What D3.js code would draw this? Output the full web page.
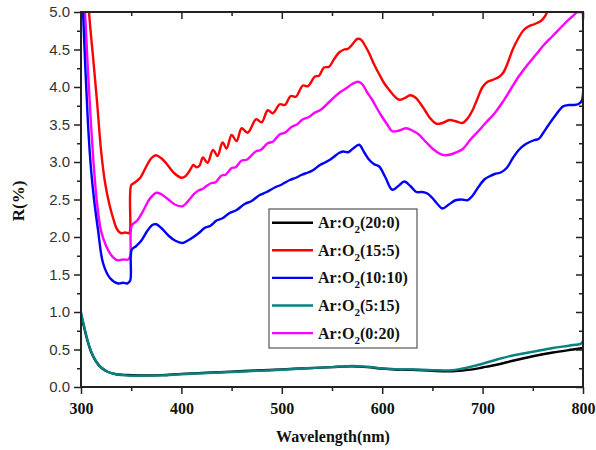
<!DOCTYPE html>
<html><head><meta charset="utf-8">
<script src="https://cdn.jsdelivr.net/npm/d3@7"></script>
<style>
html,body{margin:0;padding:0;background:#fff;}
svg{display:block;}
</style></head>
<body>
<svg id="chart" width="596" height="450"></svg>
<script>
// ---- data (wavelength nm, reflectance %) ----
const xTicks = [300, 400, 500, 600, 700, 800];
const xMinorTicks = [350, 450, 550, 650, 750];
const yTicks = [0, 0.5, 1, 1.5, 2, 2.5, 3, 3.5, 4, 4.5, 5];
const yMinorTicks = [0.25, 0.75, 1.25, 1.75, 2.25, 2.75, 3.25, 3.75, 4.25, 4.75];

const seriesNames = ["20:0", "15:5", "10:10", "5:15", "0:20"];
const seriesColors = ["#000000", "#ff0000", "#0000ff", "#0a8080", "#ff00ff"];

const ar20_0 = [[300,0.95],[303,0.8],[306,0.64],[310,0.47],[315,0.34],[320,0.26],[327,0.2],[335,0.17],[345,0.16],[360,0.155],[380,0.158],[400,0.175],[425,0.19],[450,0.205],[475,0.22],[500,0.235],[525,0.25],[550,0.265],[570,0.275],[585,0.265],[600,0.245],[615,0.23],[630,0.23],[650,0.215],[670,0.21],[690,0.235],[700,0.26],[715,0.3],[730,0.35],[750,0.41],[770,0.46],[790,0.5],[800,0.52]];

const ar15_5 = [[300,7.5],[304,6.1],[308,5.0],[312,4.4],[316,3.8],[320,3.15],[324,2.72],[328,2.45],[332,2.25],[336,2.1],[340,2.05],[344,2.06],[348,2.05],[349,2.1],[350,2.69],[353,2.72],[359,2.79],[365,2.94],[370,3.05],[374.5,3.09],[380,3.05],[385,2.98],[393,2.85],[400,2.79],[404,2.81],[408,2.88],[412,2.96],[415,2.93],[418,2.95],[421.5,3.06],[426,2.99],[431.5,3.16],[436,3.08],[441,3.26],[445,3.18],[450,3.36],[455,3.28],[460,3.45],[466,3.39],[474.5,3.57],[480,3.53],[486,3.69],[491,3.65],[498,3.77],[503,3.76],[509,3.88],[514,3.87],[521,4.02],[526,4.01],[533,4.14],[537,4.15],[542,4.26],[547,4.27],[552,4.37],[557,4.46],[562,4.5],[566,4.51],[571,4.58],[575,4.64],[579,4.63],[583,4.55],[587,4.45],[592,4.3],[597,4.17],[602,4.05],[607,3.96],[612,3.88],[617,3.83],[622,3.85],[628,3.89],[633,3.86],[638,3.78],[643,3.68],[648,3.58],[654,3.51],[660,3.52],[667,3.56],[674,3.54],[680,3.52],[685,3.58],[690,3.69],[695,3.85],[700,4.0],[705,4.07],[711,4.1],[717,4.14],[721,4.2],[725,4.32],[730,4.5],[736,4.66],[741,4.76],[746,4.81],[752,4.84],[758,4.88],[762,4.94],[766,5.05],[770,5.2]];

const ar10_10 = [[300,6.0],[302,5.0],[304.5,4.2],[307,3.5],[310,2.9],[313,2.5],[317,2.09],[322,1.65],[329,1.45],[337,1.38],[342,1.39],[346,1.38],[349,1.42],[350.5,1.83],[355,1.88],[360,1.95],[366,2.08],[371,2.16],[375,2.17],[380,2.12],[387,2.02],[394,1.95],[401,1.92],[406,1.95],[412,2.0],[418,2.06],[423,2.12],[429,2.15],[435,2.22],[441,2.25],[448,2.32],[455,2.36],[463,2.44],[470,2.48],[478,2.56],[485,2.6],[493,2.66],[500,2.7],[508,2.76],[514,2.79],[520,2.83],[526,2.86],[531,2.89],[538,2.96],[544,3.0],[548,3.03],[552,3.07],[557,3.12],[561,3.14],[566,3.13],[571,3.18],[577,3.23],[582,3.13],[587,3.03],[592,2.97],[597,2.94],[603,2.8],[610,2.63],[616,2.68],[622,2.74],[628,2.68],[634,2.6],[640,2.6],[645,2.58],[650,2.52],[655,2.44],[660,2.38],[666,2.43],[673,2.49],[679,2.5],[685,2.49],[690,2.55],[696,2.67],[702,2.77],[707,2.81],[712,2.84],[718,2.86],[724,2.92],[730,3.05],[736,3.16],[743,3.24],[751,3.29],[756,3.31],[760,3.38],[766,3.5],[773,3.63],[780,3.74],[786,3.76],[791,3.76],[795,3.77],[798,3.8],[799.5,3.85],[800,5.0]];

const ar5_15 = [[300,1.0],[303,0.82],[306,0.65],[310,0.48],[315,0.34],[320,0.26],[327,0.2],[335,0.17],[345,0.155],[360,0.15],[380,0.155],[400,0.17],[425,0.185],[450,0.2],[475,0.215],[500,0.23],[525,0.25],[550,0.265],[570,0.28],[585,0.27],[600,0.25],[615,0.235],[630,0.235],[650,0.225],[670,0.225],[685,0.26],[700,0.31],[715,0.37],[730,0.42],[750,0.47],[770,0.52],[790,0.56],[799,0.59],[800,1.52]];

const ar0_20 = [[300,6.0],[304,5.0],[307,4.2],[310,3.5],[313,2.9],[316,2.45],[320,2.08],[325,1.88],[330,1.76],[336,1.69],[342,1.7],[347,1.7],[349,1.74],[350.5,2.15],[356,2.22],[362,2.35],[368,2.5],[375,2.59],[380,2.57],[387,2.5],[394,2.43],[401,2.41],[408,2.5],[413,2.58],[417,2.62],[421,2.64],[425,2.68],[430,2.72],[434,2.73],[440,2.82],[444,2.83],[450,2.92],[454,2.93],[460,3.02],[465,3.03],[474,3.14],[479,3.16],[486,3.25],[491,3.27],[498,3.37],[503,3.39],[510,3.47],[515,3.5],[521,3.57],[527,3.6],[533,3.66],[538,3.69],[548,3.81],[557,3.92],[565,3.99],[570,4.04],[576,4.07],[580,4.04],[585,3.93],[590,3.83],[595,3.71],[600,3.6],[605,3.5],[610,3.41],[617,3.42],[624,3.45],[630,3.42],[637,3.36],[644,3.26],[650,3.18],[656,3.12],[662,3.09],[668,3.1],[674,3.13],[680,3.17],[688,3.3],[695,3.4],[703,3.52],[712,3.65],[720,3.8],[728,3.97],[736,4.14],[745,4.3],[753,4.43],[761,4.56],[769,4.67],[777,4.78],[785,4.89],[793,4.99],[797,5.1]];

const seriesData = [ar20_0, ar15_5, ar10_10, ar5_15, ar0_20];
const drawOrder = [0, 3, 1, 4, 2];

// ---- layout ----
const svg = d3.select("#chart");
const x = d3.scaleLinear().domain([300, 800]).range([81, 583]);
const y = d3.scaleLinear().domain([0, 5]).range([387, 12]);
const axisColor = "#222";

svg.append("defs").append("clipPath").attr("id", "clip")
  .append("rect").attr("x", 81).attr("y", 12).attr("width", 502).attr("height", 375);

// curves
const line = d3.line().x(d => x(d[0])).y(d => y(d[1])).curve(d3.curveCatmullRom.alpha(0.5));
const plot = svg.append("g").attr("clip-path", "url(#clip)");
drawOrder.forEach(i => {
  plot.append("path").datum(seriesData[i])
    .attr("d", line).attr("fill", "none")
    .attr("stroke", seriesColors[i]).attr("stroke-width", 2.4)
    .attr("stroke-linejoin", "round");
});

// axes
function styleAxis(g) {
  g.select(".domain").remove();
  g.selectAll(".tick line").attr("stroke", axisColor).attr("stroke-width", 1.5);
}
const gL = svg.append("g").attr("transform", "translate(81,0)")
  .call(d3.axisLeft(y).tickValues(yTicks).tickFormat(d3.format(".1f")).tickSize(7).tickPadding(4));
styleAxis(gL);
gL.selectAll(".tick text").attr("font-family", "'Liberation Sans', Arial, sans-serif")
  .attr("font-size", 15).attr("fill", "#333");
const gLm = svg.append("g").attr("transform", "translate(81,0)")
  .call(d3.axisLeft(y).tickValues(yMinorTicks).tickFormat("").tickSize(4));
styleAxis(gLm);

const gB = svg.append("g").attr("transform", "translate(0,387)")
  .call(d3.axisBottom(x).tickValues(xTicks).tickFormat(d3.format("d")).tickSize(7).tickPadding(9));
styleAxis(gB);
gB.selectAll(".tick text").attr("font-family", "'Liberation Serif', 'Times New Roman', serif")
  .attr("font-weight", "bold").attr("font-size", 16).attr("fill", "#111");
const gBm = svg.append("g").attr("transform", "translate(0,387)")
  .call(d3.axisBottom(x).tickValues(xMinorTicks).tickFormat("").tickSize(4));
styleAxis(gBm);

const gT = svg.append("g").attr("transform", "translate(0,12)")
  .call(d3.axisTop(x).tickValues(xTicks).tickFormat("").tickSize(-7));
styleAxis(gT);
const gTm = svg.append("g").attr("transform", "translate(0,12)")
  .call(d3.axisTop(x).tickValues(xMinorTicks).tickFormat("").tickSize(-4));
styleAxis(gTm);

const gR = svg.append("g").attr("transform", "translate(583,0)")
  .call(d3.axisRight(y).tickValues(yTicks).tickFormat("").tickSize(-7));
styleAxis(gR);
const gRm = svg.append("g").attr("transform", "translate(583,0)")
  .call(d3.axisRight(y).tickValues(yMinorTicks).tickFormat("").tickSize(-4));
styleAxis(gRm);

// frame
svg.append("rect").attr("x", 81).attr("y", 12).attr("width", 502).attr("height", 375)
  .attr("fill", "none").attr("stroke", axisColor).attr("stroke-width", 2);

// axis titles
svg.append("text").attr("x", 333).attr("y", 442).attr("text-anchor", "middle")
  .attr("font-family", "'Liberation Serif', 'Times New Roman', serif")
  .attr("font-weight", "bold").attr("font-size", 16).attr("fill", "#111")
  .text("Wavelength(nm)");
svg.append("text").attr("transform", "translate(24,201) rotate(-90)").attr("text-anchor", "middle")
  .attr("font-family", "'Liberation Serif', 'Times New Roman', serif")
  .attr("font-weight", "bold").attr("font-size", 17).attr("fill", "#111")
  .text("R(%)");

// legend
const leg = svg.append("g");
leg.append("rect").attr("x", 269).attr("y", 209).attr("width", 148).attr("height", 139)
  .attr("fill", "#fff").attr("stroke", "#555").attr("stroke-width", 1.2);
seriesNames.forEach((name, i) => {
  const cy = 222.7 + i * 27.6;
  leg.append("line").attr("x1", 272).attr("x2", 313).attr("y1", cy).attr("y2", cy)
    .attr("stroke", seriesColors[i]).attr("stroke-width", 2.4);
  const t = leg.append("text").attr("x", 318).attr("y", cy + 5.5)
    .attr("font-family", "'Liberation Serif', 'Times New Roman', serif")
    .attr("font-weight", "bold").attr("font-size", 16).attr("fill", "#111");
  t.append("tspan").text("Ar:O");
  t.append("tspan").attr("font-size", 11).attr("dy", 5).text("2");
  t.append("tspan").attr("dy", -5).text("(" + name + ")");
});
</script>
</body></html>
